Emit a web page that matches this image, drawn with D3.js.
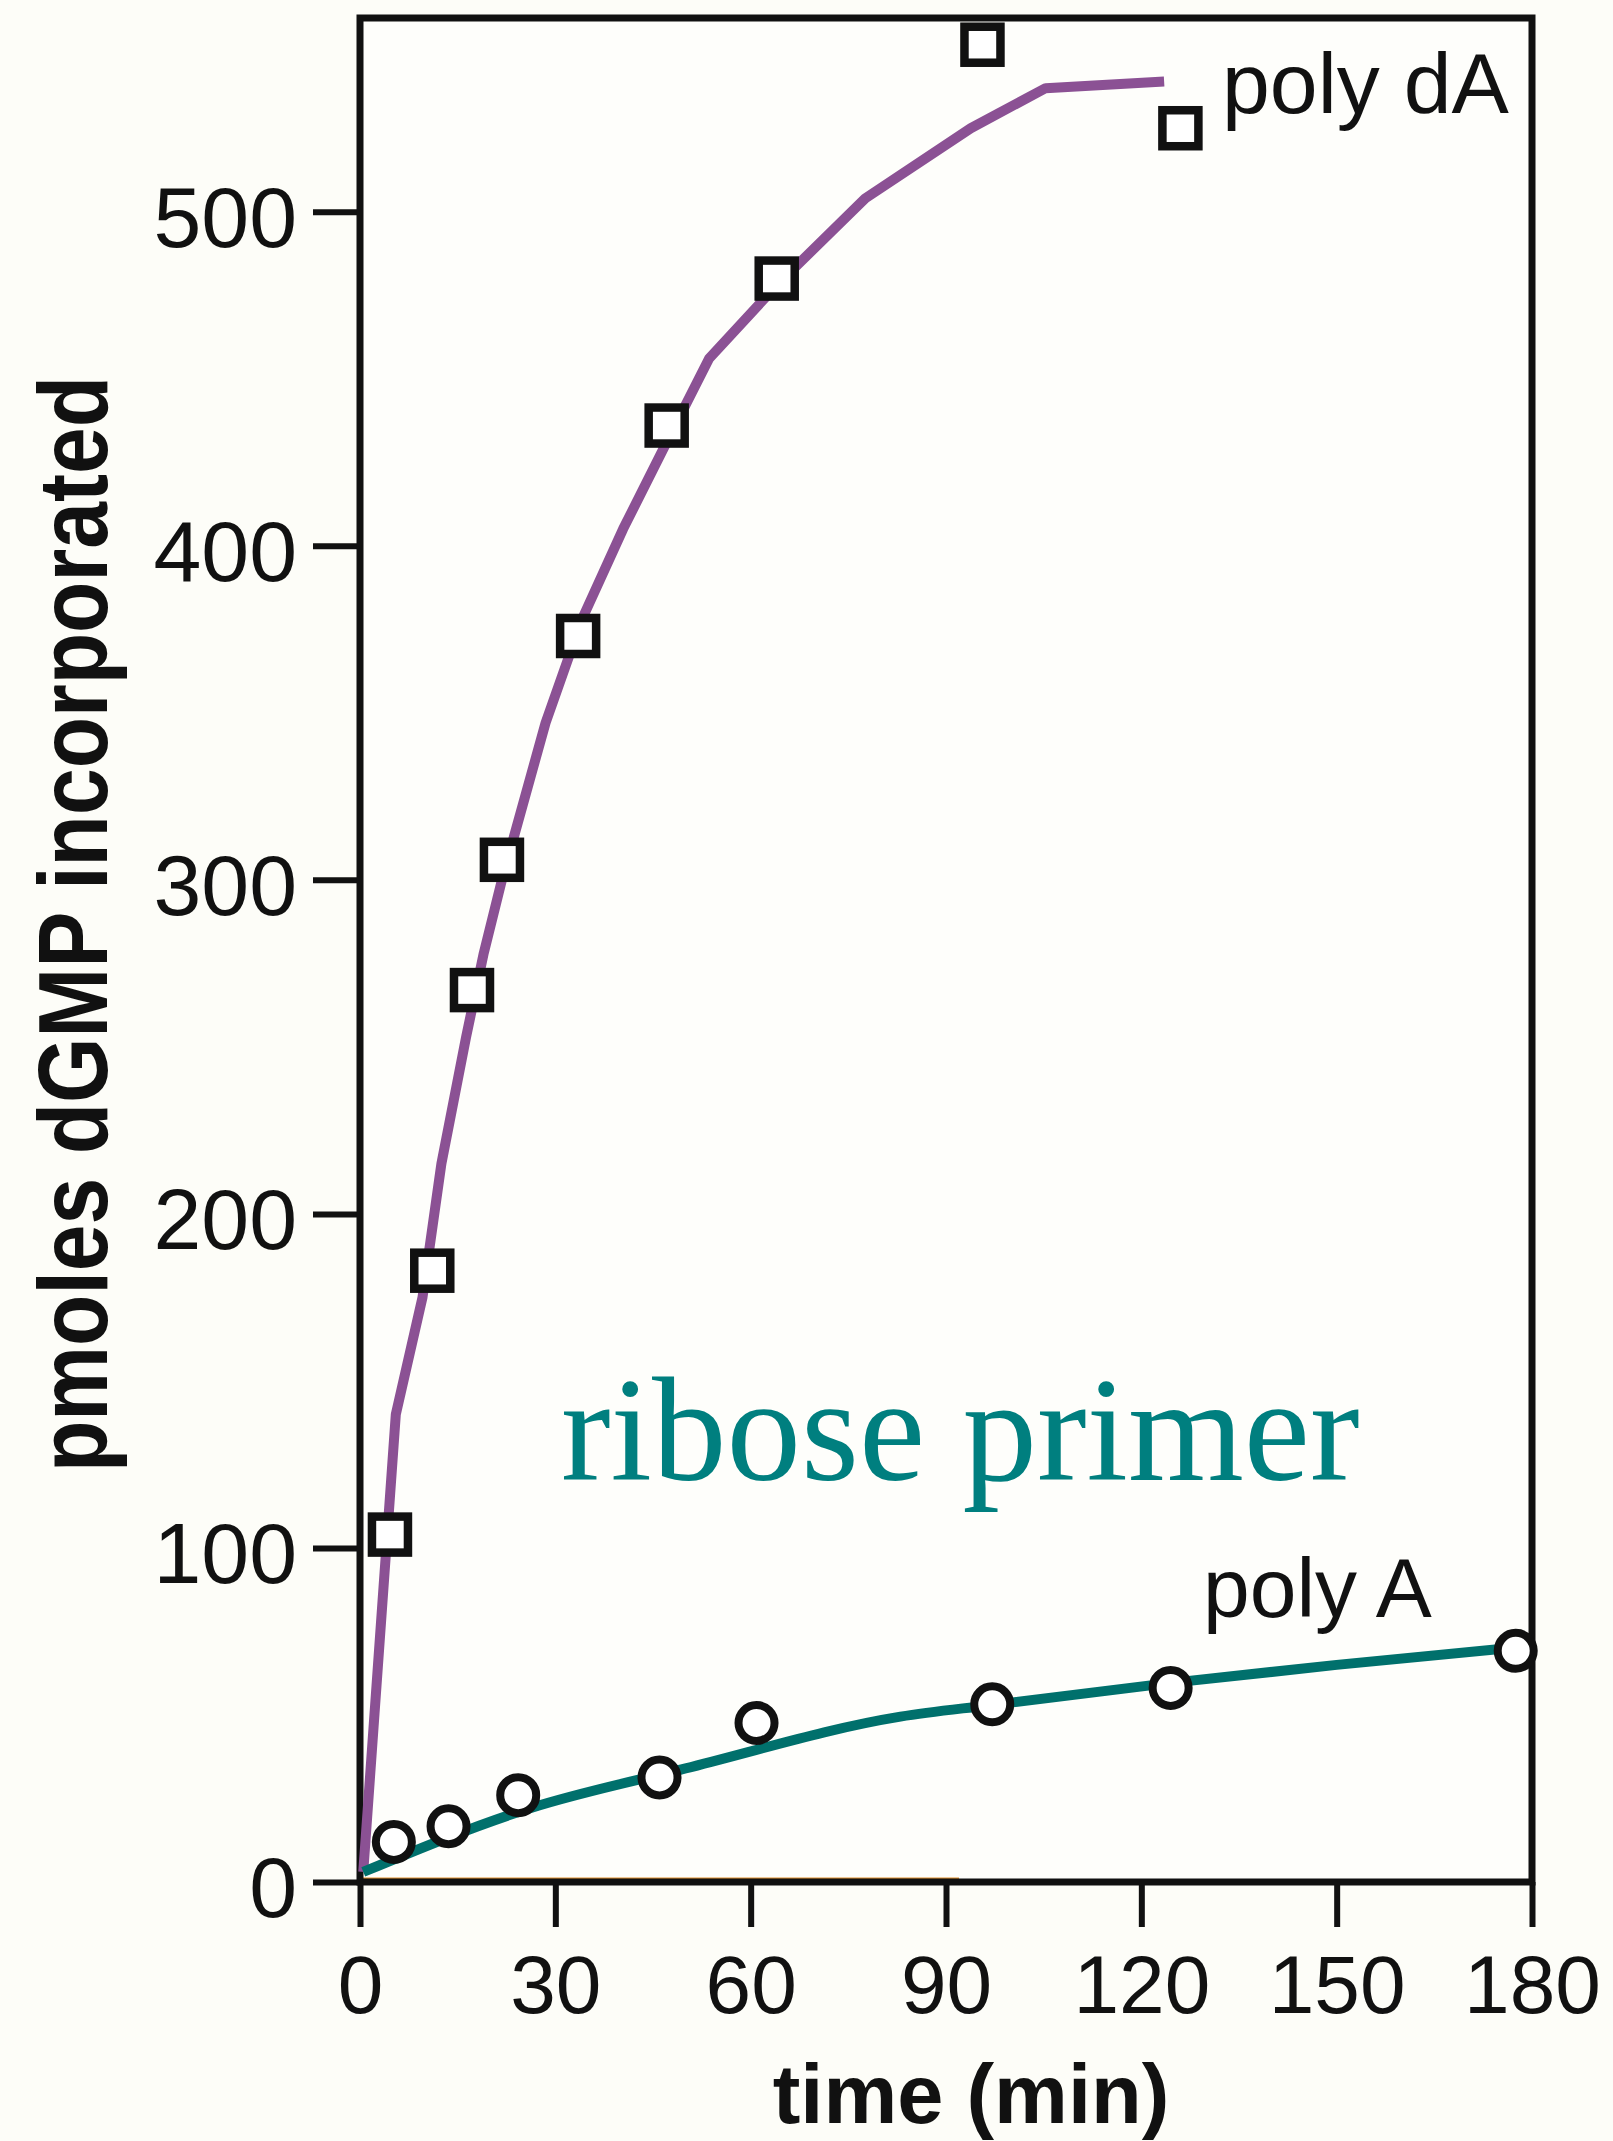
<!DOCTYPE html>
<html>
<head>
<meta charset="utf-8">
<script src="https://cdn.jsdelivr.net/npm/d3@7"></script>
<style>
  html, body { margin: 0; padding: 0; background: #FDFDF8; }
  svg { display: block; }
</style>
</head>
<body>
<script>
// ---- data ----
const xTicks = [0, 30, 60, 90, 120, 150, 180];
const yTicks = [0, 100, 200, 300, 400, 500];

// poly dA measured points (squares)
const polyDA_time = [4.6, 11.1, 17.2, 21.8, 33.5, 47.1, 64.0, 95.6, 126.0];
const polyDA_val  = [104, 183, 267, 306, 373, 436, 480, 550, 525];

// poly dA fitted curve (purple)
const polyDAFit_time = [0.5, 5.5, 9.6, 12.5, 16.3, 19.0, 21.8, 28.5, 34.1, 40.4, 47.1, 53.6, 64.0, 77.6, 93.8, 105.3, 123.5];
const polyDAFit_val  = [3, 140, 175, 215, 253, 278, 300, 347, 378, 405, 431, 456, 478, 504, 525, 537, 539];

// poly A measured points (circles)
const polyA_time = [5.2, 13.6, 24.3, 46.0, 60.9, 97.1, 124.5, 177.5];
const polyA_val  = [12, 16.7, 26, 31.3, 47.6, 53.2, 58.1, 69.2];

// poly A fitted curve (teal)
const polyAFit_time = [0.5, 26, 50, 83, 97, 124.5, 150, 178];
const polyAFit_val  = [3, 22, 34, 49.5, 53, 59.6, 65, 70.3];

// control series lying on the baseline (orange)
const control_time = [0, 92];
const control_val  = [0, 0];

const labels = {
  xTitle: "time (min)",
  yTitle: "pmoles dGMP incorporated",
  polyDA: "poly dA",
  polyA: "poly A",
  note: "ribose primer"
};

// ---- drawing ----
const W = 1613, H = 2141;
const svg = d3.select("body").append("svg").attr("width", W).attr("height", H);
svg.append("rect").attr("width", W).attr("height", H).attr("fill", "#FDFDF8");

const x = d3.scaleLinear().domain([0, 180]).range([360, 1532]);
const y = d3.scaleLinear().domain([0, 558]).range([1882, 18]);

const sans = "'Liberation Sans', Arial, Helvetica, sans-serif";

// plot interior slightly whiter
svg.append("rect")
  .attr("x", x(0)).attr("y", y(558))
  .attr("width", x(180) - x(0)).attr("height", y(0) - y(558))
  .attr("fill", "#FEFEFB");

// control baseline (under axis)
svg.append("path")
  .datum(control_time.map((t, i) => [t, control_val[i]]))
  .attr("fill", "none").attr("stroke", "#E0902E").attr("stroke-width", 3)
  .attr("d", d3.line().x(d => x(d[0])).y(d => y(d[1]) - 3));

// axes
const xAxis = svg.append("g").attr("transform", `translate(0,${y(0)})`)
  .call(d3.axisBottom(x).tickValues(xTicks).tickSize(45).tickSizeOuter(0).tickPadding(28));
const yAxis = svg.append("g").attr("transform", `translate(${x(0)},0)`)
  .call(d3.axisLeft(y).tickValues(yTicks).tickSize(47).tickSizeOuter(0).tickPadding(16));
[xAxis, yAxis].forEach(g => {
  g.select(".domain").remove();
  g.selectAll(".tick line").attr("stroke", "#111").attr("stroke-width", 6);
  g.selectAll(".tick text").attr("fill", "#111").style("font-family", sans);
});
xAxis.selectAll(".tick text").style("font-size", "82px");
yAxis.selectAll(".tick text").style("font-size", "86px").attr("dy", "0.40em");

// frame
svg.append("rect")
  .attr("x", x(0)).attr("y", y(558))
  .attr("width", x(180) - x(0)).attr("height", y(0) - y(558))
  .attr("fill", "none").attr("stroke", "#111").attr("stroke-width", 7);

// fitted lines
const line = d3.line().x(d => x(d[0])).y(d => y(d[1]));
svg.append("path")
  .datum(polyDAFit_time.map((t, i) => [t, polyDAFit_val[i]]))
  .attr("fill", "none").attr("stroke", "#8B5194").attr("stroke-width", 10)
  .attr("stroke-linejoin", "round").attr("d", line);
svg.append("path")
  .datum(polyAFit_time.map((t, i) => [t, polyAFit_val[i]]))
  .attr("fill", "none").attr("stroke", "#00706C").attr("stroke-width", 10)
  .attr("stroke-linejoin", "round")
  .attr("d", d3.line().curve(d3.curveMonotoneX).x(d => x(d[0])).y(d => y(d[1])));

// markers
const sq = 36;
svg.append("g").selectAll("rect")
  .data(polyDA_time.map((t, i) => [t, polyDA_val[i]]))
  .join("rect")
  .attr("x", d => x(d[0]) - sq / 2).attr("y", d => y(d[1]) - sq / 2)
  .attr("width", sq).attr("height", sq)
  .attr("fill", "#FFFFFF").attr("stroke", "#111").attr("stroke-width", 8.5);

svg.append("g").selectAll("circle")
  .data(polyA_time.map((t, i) => [t, polyA_val[i]]))
  .join("circle")
  .attr("cx", d => x(d[0])).attr("cy", d => y(d[1])).attr("r", 18)
  .attr("fill", "#FFFFFF").attr("stroke", "#111").attr("stroke-width", 8);

// series labels
svg.append("text").attr("x", 1222).attr("y", 113)
  .style("font-family", sans).style("font-size", "86px").attr("fill", "#111")
  .text(labels.polyDA);
svg.append("text").attr("x", 1203).attr("y", 1617)
  .style("font-family", sans).style("font-size", "84px").attr("fill", "#111")
  .text(labels.polyA);

// annotation
svg.append("text").attr("x", 561).attr("y", 1480)
  .style("font-family", "'Liberation Serif', 'Times New Roman', serif")
  .style("font-size", "149px").attr("fill", "#007F7F")
  .text(labels.note);

// axis titles
svg.append("text").attr("x", 971).attr("y", 2123).attr("text-anchor", "middle")
  .style("font-family", sans).style("font-size", "83px").style("font-weight", "bold")
  .attr("fill", "#111").text(labels.xTitle);

svg.append("text")
  .attr("transform", "translate(107,924) rotate(-90)")
  .attr("text-anchor", "middle")
  .attr("textLength", 1096).attr("lengthAdjust", "spacingAndGlyphs")
  .style("font-family", sans).style("font-size", "98px").style("font-weight", "bold")
  .attr("fill", "#111").text(labels.yTitle);
</script>
</body>
</html>
